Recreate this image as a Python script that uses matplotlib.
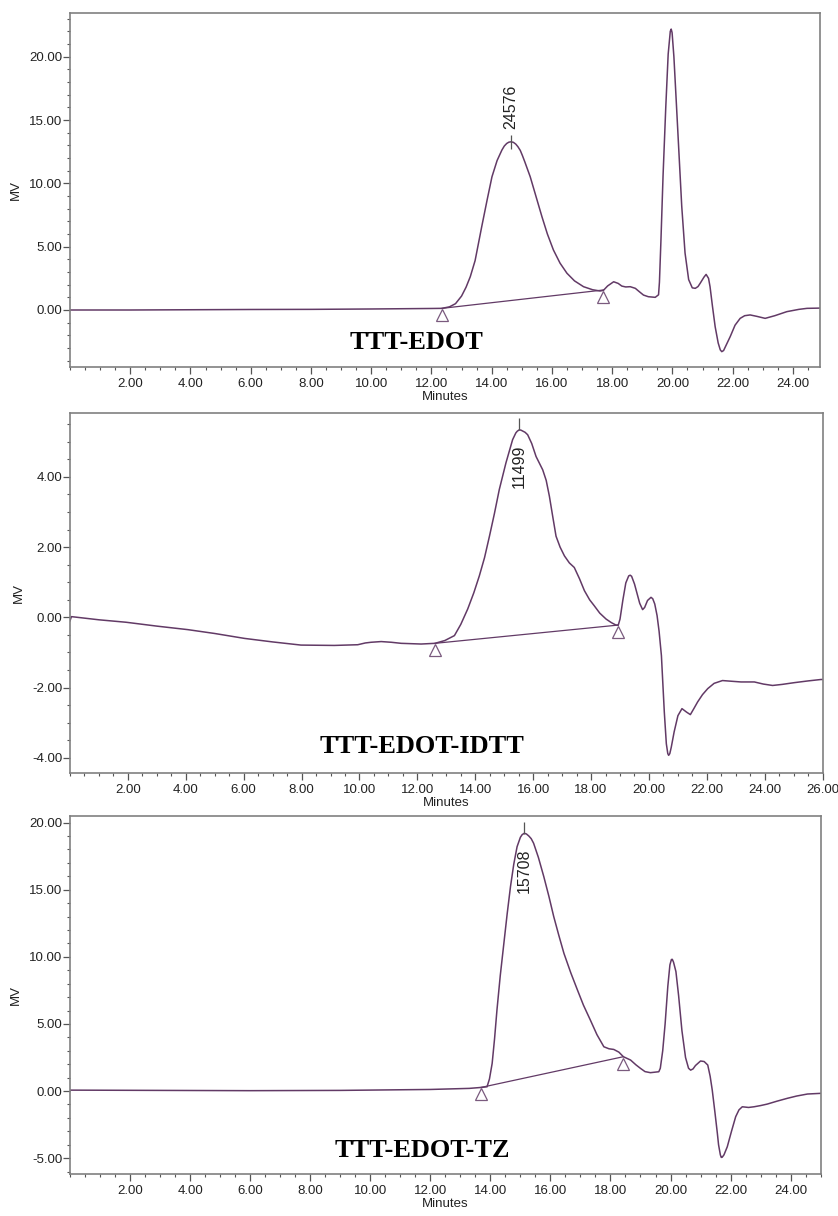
import numpy as np
import matplotlib.pyplot as plt
from matplotlib.ticker import MultipleLocator, FormatStrFormatter
from matplotlib.transforms import offset_copy

plt.rcParams['axes.unicode_minus'] = False
plt.rcParams['font.family'] = ['Liberation Sans', 'DejaVu Sans']

# --- TTT-EDOT trace (minutes, mV) ---
edot_t = [0.0, 2.0, 4.0, 6.0, 8.0, 10.0, 11.0, 12.0, 12.35, 12.6, 12.8, 13.0, 13.15, 13.29, 13.45,
          13.67, 13.85, 14.01, 14.18, 14.34, 14.42, 14.5, 14.57, 14.64, 14.72, 14.8, 14.87, 14.95,
          15.02, 15.1, 15.28, 15.48, 15.67, 15.85, 16.05, 16.27, 16.5, 16.75, 17.05, 17.35, 17.6,
          17.71, 17.85, 18.05, 18.2, 18.32, 18.45, 18.6, 18.77, 18.9, 19.04, 19.2, 19.43, 19.54,
          19.57, 19.62, 19.69, 19.78, 19.86, 19.93, 19.96, 19.99, 20.05, 20.13, 20.22, 20.31, 20.42,
          20.54, 20.66, 20.76, 20.85, 20.92, 21.05, 21.12, 21.2, 21.25, 21.33, 21.42, 21.52, 21.59,
          21.64, 21.7, 21.78, 21.92, 22.08, 22.25, 22.4, 22.58, 22.8, 23.08, 23.4, 23.8, 24.2,
          24.47, 24.9]
edot_v = [0.0, 0.0, 0.02, 0.04, 0.05, 0.08, 0.1, 0.12, 0.13, 0.25, 0.5, 1.1, 1.8, 2.63, 3.9,
          6.58, 8.7, 10.52, 11.8, 12.63, 12.95, 13.15, 13.25, 13.28, 13.24, 13.1, 12.9, 12.6,
          12.2, 11.7, 10.52, 8.9, 7.36, 6.0, 4.74, 3.7, 2.9, 2.3, 1.84, 1.6, 1.5,
          1.55, 1.9, 2.23, 2.1, 1.89, 1.82, 1.84, 1.71, 1.45, 1.18, 1.05, 1.0, 1.2,
          2.2, 5.5, 10.6, 16.0, 20.2, 22.0, 22.18, 21.9, 20.0, 16.4, 12.3, 8.2, 4.5,
          2.4, 1.75, 1.71, 1.85, 2.1, 2.6, 2.81, 2.5, 1.84, 0.3, -1.32, -2.6, -3.15,
          -3.29, -3.2, -2.8, -2.1, -1.2, -0.66, -0.45, -0.39, -0.5, -0.66, -0.45, -0.13, 0.05,
          0.13, 0.15]

# --- TTT-EDOT-IDTT trace ---
idtt_t = [0.0, 0.05, 1.0, 1.94, 3.0, 4.07, 5.0, 6.03, 7.0, 7.98, 9.13, 9.94, 10.2, 10.4, 10.75,
          11.1, 11.44, 12.13, 12.61, 12.95, 13.28, 13.5, 13.74, 13.95, 14.14, 14.32, 14.49, 14.66,
          14.83, 15.06, 15.29, 15.4, 15.45, 15.52, 15.58, 15.65, 15.72, 15.81, 15.95, 16.1, 16.33,
          16.45, 16.56, 16.68, 16.79, 16.93, 17.08, 17.25, 17.42, 17.6, 17.77, 17.95, 18.11, 18.3,
          18.52, 18.7, 18.86, 18.94, 19.0, 19.1, 19.2, 19.3, 19.35, 19.4, 19.5, 19.68, 19.78,
          19.85, 19.95, 20.07, 20.13, 20.2, 20.28, 20.35, 20.43, 20.53, 20.6, 20.65, 20.68, 20.72,
          20.77, 20.87, 21.0, 21.14, 21.3, 21.43, 21.55, 21.68, 21.85, 22.03, 22.25, 22.54, 22.85,
          23.18, 23.64, 23.95, 24.27, 24.6, 25.02, 25.5, 25.94, 26.0]
idtt_v = [-0.1, 0.02, -0.07, -0.14, -0.25, -0.35, -0.46, -0.6, -0.7, -0.79, -0.8, -0.78, -0.73,
          -0.71, -0.69, -0.71, -0.74, -0.76, -0.74, -0.66, -0.52, -0.2, 0.24, 0.7, 1.18, 1.7, 2.31,
          2.95, 3.64, 4.4, 5.06, 5.25, 5.3, 5.34, 5.33, 5.3, 5.27, 5.2, 4.95, 4.58, 4.2,
          3.9, 3.45, 2.85, 2.31, 2.0, 1.75, 1.55, 1.42, 1.1, 0.76, 0.5, 0.33, 0.12,
          -0.05, -0.15, -0.22, -0.22, -0.05, 0.5, 0.98, 1.18, 1.2, 1.17, 0.95, 0.4, 0.22,
          0.28, 0.48, 0.57, 0.53, 0.38, 0.05, -0.4, -1.09, -2.7, -3.6, -3.88, -3.93, -3.88,
          -3.7, -3.26, -2.8, -2.6, -2.7, -2.77, -2.6, -2.41, -2.2, -2.03, -1.88, -1.8, -1.82,
          -1.84, -1.84, -1.9, -1.94, -1.91, -1.86, -1.81, -1.77, -1.77]

# --- TTT-EDOT-TZ trace ---
tz_t = [0.0, 3.0, 6.0, 9.0, 12.0, 13.3, 13.69, 13.89, 13.97, 14.06, 14.14, 14.22, 14.33, 14.45,
        14.56, 14.67, 14.78, 14.89, 15.0, 15.06, 15.13, 15.2, 15.28, 15.36, 15.44, 15.6, 15.78,
        15.95, 16.11, 16.28, 16.45, 16.68, 16.9, 17.1, 17.33, 17.55, 17.78, 17.95, 18.11, 18.28,
        18.43, 18.67, 18.85, 19.0, 19.15, 19.33, 19.61, 19.66, 19.74, 19.82, 19.91, 19.98, 20.03,
        20.06, 20.1, 20.18, 20.27, 20.38, 20.5, 20.6, 20.67, 20.75, 20.83, 21.0, 21.12, 21.24,
        21.32, 21.39, 21.48, 21.56, 21.6, 21.66, 21.69, 21.72, 21.78, 21.89, 22.03, 22.17, 22.28,
        22.39, 22.6, 22.78, 23.0, 23.22, 23.55, 23.89, 24.2, 24.56, 25.0]
tz_v = [0.07, 0.05, 0.03, 0.05, 0.12, 0.2, 0.27, 0.32, 0.9, 2.06, 3.9, 6.04, 8.6, 11.0,
        13.2, 15.22, 16.9, 18.2, 18.9, 19.1, 19.2, 19.15, 19.0, 18.8, 18.46, 17.4, 15.97,
        14.5, 13.0, 11.6, 10.26, 8.8, 7.53, 6.4, 5.29, 4.2, 3.3, 3.15, 3.1, 2.9,
        2.56, 2.31, 1.95, 1.69, 1.45, 1.37, 1.44, 1.7, 3.0, 5.0, 7.8, 9.4, 9.8,
        9.81, 9.6, 8.9, 7.1, 4.5, 2.5, 1.7, 1.56, 1.65, 1.9, 2.24, 2.2, 1.94,
        1.1, 0.07, -1.6, -3.15, -4.0, -4.75, -4.94, -4.93, -4.75, -4.15, -3.0, -1.91, -1.4,
        -1.17, -1.22, -1.17, -1.08, -0.97, -0.75, -0.54, -0.37, -0.22, -0.17]

names = ["TTT-EDOT", "TTT-EDOT-IDTT", "TTT-EDOT-TZ"]
traces = [(edot_t, edot_v), (idtt_t, idtt_v), (tz_t, tz_v)]
# integration baseline start/end (minutes, mV)
base_t = [[12.35, 17.71], [12.61, 18.94], [13.69, 18.43]]
base_v = [[0.13, 1.58], [-0.74, -0.22], [0.27, 2.56]]
# peak apex and Mp label
peak_t = [14.64, 15.52, 15.13]
peak_v = [13.28, 5.34, 19.2]
peak_lbl = ["24576", "11499", "15708"]

xlims = [(0, 24.9), (0, 26.0), (0, 25.0)]
ylims = [(-4.5, 23.45), (-4.44, 5.81), (-6.18, 20.51)]
ymajor = [5, 2, 5]
yminor = [1, 0.5, 1]

# axes boxes in figure fraction (left, bottom, width, height)
boxes = [(0.0835, 0.6982, 0.895, 0.2911),
         (0.0835, 0.3641, 0.8982, 0.2960),
         (0.0835, 0.0345, 0.8958, 0.2947)]
title_pos = [(0.462, 0.068), (0.468, 0.073), (0.470, 0.067)]

line_col = '#623a66'
spine_col = '#808080'

fig = plt.figure(figsize=(8.38, 12.16), dpi=100)

for i in range(3):
    ax = fig.add_axes(boxes[i])
    t, v = traces[i]
    ax.plot(t, v, color=line_col, lw=1.1, solid_joinstyle='round')
    ax.plot(base_t[i], base_v[i], color=line_col, lw=0.9)

    tri = offset_copy(ax.transData, fig=fig, x=0, y=-5, units='points')
    ax.plot(base_t[i], base_v[i], linestyle='none', marker='^', markersize=9,
            markerfacecolor='white', markeredgecolor='#7a5a7e', markeredgewidth=0.9,
            transform=tri)

    if i == 0:
        ax.plot([peak_t[i]], [peak_v[i]], marker='|', markersize=10, color='#555555',
                markeredgewidth=0.9)
        ax.annotate(peak_lbl[i], xy=(peak_t[i], peak_v[i]), xytext=(0, 9),
                    textcoords='offset points', rotation=90, ha='center', va='bottom',
                    fontsize=11.5, color='#222222')
    else:
        up = offset_copy(ax.transData, fig=fig, x=0, y=4, units='points')
        ax.plot([peak_t[i]], [peak_v[i]], marker='|', markersize=9, color='#555555',
                markeredgewidth=0.9, transform=up)
        ax.annotate(peak_lbl[i], xy=(peak_t[i], peak_v[i]), xytext=(0, -11),
                    textcoords='offset points', rotation=90, ha='center', va='top',
                    fontsize=11.5, color='#222222')

    ax.set_xlim(*xlims[i])
    ax.set_ylim(*ylims[i])
    ax.xaxis.set_major_locator(MultipleLocator(2))
    ax.xaxis.set_minor_locator(MultipleLocator(0.5))
    ax.yaxis.set_major_locator(MultipleLocator(ymajor[i]))
    ax.yaxis.set_minor_locator(MultipleLocator(yminor[i]))
    ax.xaxis.set_major_formatter(FormatStrFormatter('%.2f'))
    ax.yaxis.set_major_formatter(FormatStrFormatter('%.2f'))
    xt = ax.get_xticks()
    ax.set_xticks([x for x in xt if x > 0.1 and x <= xlims[i][1] + 0.01])

    for s in ax.spines.values():
        s.set_color(spine_col)
        s.set_linewidth(1.2)
    ax.tick_params(axis='both', which='major', direction='out', length=5, width=0.9,
                   color='#555555', labelsize=9.5, labelcolor='#222222')
    ax.tick_params(axis='both', which='minor', direction='out', length=2.5, width=0.8,
                   color='#555555')
    ax.tick_params(axis='x', which='major', pad=3)
    ax.tick_params(axis='y', which='major', pad=0.5)

    ax.set_xlabel('Minutes', fontsize=9.5, labelpad=0.5, color='#222222')
    ax.set_ylabel('MV', fontsize=9.5, labelpad=5, color='#222222')

    ax.text(title_pos[i][0], title_pos[i][1], names[i], transform=ax.transAxes,
            ha='center', va='center', fontsize=19, fontweight='bold',
            family=['Liberation Serif', 'DejaVu Serif'], color='black')

fig.savefig('out.png', dpi=100)
